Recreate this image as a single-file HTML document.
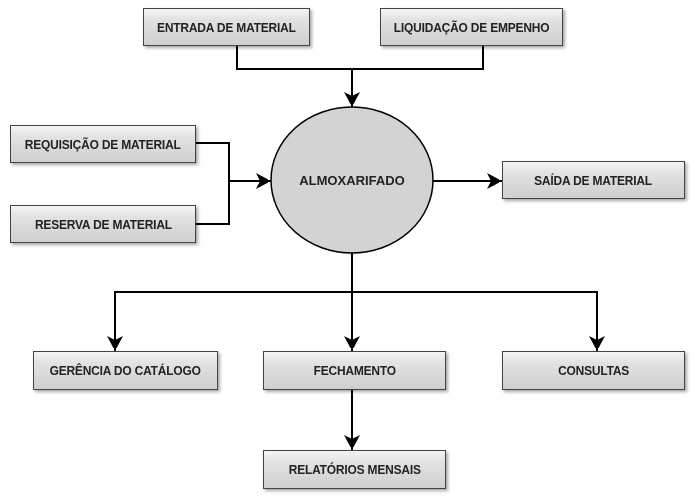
<!DOCTYPE html>
<html><head><meta charset="utf-8"><style>
body{margin:0;width:700px;height:499px;background:#fff;position:relative;overflow:hidden;font-family:"Liberation Sans Narrow","Liberation Sans",sans-serif}
.b{position:absolute;box-sizing:border-box;border:1px solid #444;background:linear-gradient(#f4f4f4 0%,#e2e2e2 30%,#cfcfcf 100%);box-shadow:2px 2px 3px rgba(0,0,0,.35);display:flex;align-items:center;justify-content:center;font-weight:bold;font-size:13px;color:#222;letter-spacing:-0.2px}
.b span{display:inline-block;transform:scaleX(.92)}
svg{position:absolute;left:0;top:0}
</style></head><body>
<svg width="700" height="499">
<defs><marker id="a" markerWidth="10" markerHeight="10" refX="9" refY="5" orient="auto" markerUnits="userSpaceOnUse"><path d="M0,0 L10,5 L0,10 L3,5Z" fill="#000"/></marker>
<marker id="v" viewBox="0 0 12 16" markerWidth="12" markerHeight="16" refX="15" refY="8" orient="auto" markerUnits="userSpaceOnUse"><path d="M0,0 L15,8 L0,16 L4,8Z" fill="#000"/></marker></defs>
<g stroke="#000" stroke-width="2" fill="none">
<polyline points="237,45 237,69 483,69 483,45"/>
<line x1="352" y1="69" x2="352" y2="107" marker-end="url(#v)"/>
<polyline points="196,143 229,143 229,224 196,224"/>
<line x1="229" y1="181" x2="271" y2="181" marker-end="url(#v)"/>
<line x1="433" y1="181" x2="502" y2="181" marker-end="url(#v)"/>
<line x1="352" y1="252" x2="352" y2="351" marker-end="url(#v)"/>
<polyline points="115,351 115,292 597,292 597,351" marker-end="url(#v)"/>
<line x1="115" y1="300" x2="115" y2="351" marker-end="url(#v)"/>
<line x1="352" y1="390" x2="352" y2="450" marker-end="url(#v)"/>
</g>
<ellipse cx="352" cy="180" rx="81" ry="73" fill="#d3d3d3" stroke="#000" stroke-width="1.5"/>
<text x="352" y="185" text-anchor="middle" font-family="Liberation Sans Narrow,Liberation Sans,sans-serif" font-weight="bold" font-size="13" fill="#222">ALMOXARIFADO</text>
</svg>
<div class="b" style="left:143px;top:8px;width:167px;height:38px"><span>ENTRADA DE MATERIAL</span></div>
<div class="b" style="left:380px;top:8px;width:183px;height:38px"><span>LIQUIDAÇÃO DE EMPENHO</span></div>
<div class="b" style="left:10px;top:125px;width:186px;height:38px"><span>REQUISIÇÃO DE MATERIAL</span></div>
<div class="b" style="left:10px;top:205px;width:186px;height:38px"><span>RESERVA DE MATERIAL</span></div>
<div class="b" style="left:502px;top:161px;width:183px;height:38px"><span>SAÍDA DE MATERIAL</span></div>
<div class="b" style="left:33px;top:351px;width:185px;height:39px"><span>GERÊNCIA DO CATÁLOGO</span></div>
<div class="b" style="left:263px;top:351px;width:183px;height:39px"><span>FECHAMENTO</span></div>
<div class="b" style="left:502px;top:351px;width:183px;height:39px"><span>CONSULTAS</span></div>
<div class="b" style="left:263px;top:450px;width:183px;height:39px"><span>RELATÓRIOS MENSAIS</span></div>
</body></html>
